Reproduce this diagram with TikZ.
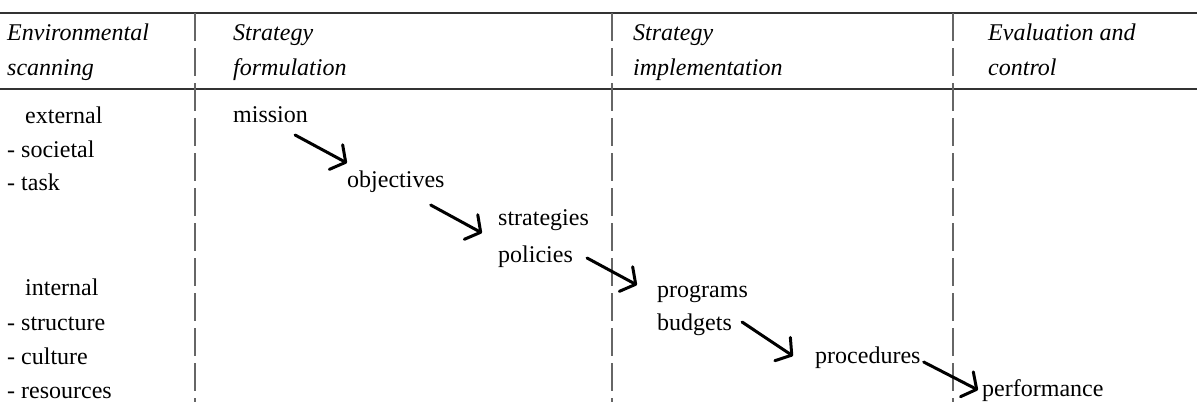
\documentclass[tikz,border=0pt]{standalone}
\usepackage{fontspec}
\setmainfont{Liberation Serif}
\usetikzlibrary{arrows.meta}
\begin{document}
\begin{tikzpicture}[x=1pt,y=-1pt,
  lbl/.style={anchor=base west, inner sep=0pt, align=left,
              font=\fontsize{24}{35}\selectfont},
  head/.style={lbl, font=\fontsize{24}{35}\selectfont\itshape},
  rule/.style={line width=2pt, draw=black!80},
  divider/.style={line width=1.4pt, draw=black!60, dash pattern=on 28pt off 7pt},
  flow/.style={line width=3pt, line cap=round,
               -{Straight Barb[length=11pt,width=28pt,line cap=round,line join=round]}}
]
\useasboundingbox (0,0) rectangle (1197,402);

% horizontal rules of the table head
\draw[rule] (0,13) -- (1197,13);
\draw[rule] (0,89) -- (1197,89);

% column separators
\draw[divider] (195,13) -- (195,402);
\draw[divider] (612,13) -- (612,402);
\draw[divider] (953,13) -- (953,402);

% column headings (anchored on the baseline of the second line)
\node[head] (hscan) at (7,75)   {Environmental\\scanning};
\node[head] (hform) at (233,75) {Strategy\\formulation};
\node[head] (himpl) at (633,75) {Strategy\\implementation};
\node[head] (heval) at (988,75) {Evaluation and\\control};

% environmental scanning items
\node[lbl] (ext)   at (25,123) {external};
\node[lbl] (soc)   at (7,157)  {- societal};
\node[lbl] (task)  at (7,190)  {- task};
\node[lbl] (int)   at (25,295) {internal};
\node[lbl] (struc) at (7,330)  {- structure};
\node[lbl] (cult)  at (7,364)  {- culture};
\node[lbl] (res)   at (7,398)  {- resources};

% process chain
\node[lbl] (mission)     at (233,122) {mission};
\node[lbl] (objectives)  at (347,187) {objectives};
\node[lbl] (strategies)  at (498,225) {strategies};
\node[lbl] (policies)    at (498,262) {policies};
\node[lbl] (programs)    at (657,297) {programs};
\node[lbl] (budgets)     at (657,330) {budgets};
\node[lbl] (procedures)  at (815,363) {procedures};
\node[lbl] (performance) at (982,396) {performance};

% arrows between the stages
\draw[flow] ([shift={(-13,13)}]mission.base east) -- ([shift={(0,-24)}]objectives.base west);
\draw[flow] ([shift={(-14,18)}]objectives.base east) -- ([shift={(-16,8)}]strategies.base west);
\draw[flow] ([shift={(14,-4)}]policies.base east) -- ([shift={(-20,-12)}]programs.base west);
\draw[flow] ([shift={(10,-8)}]budgets.base east) -- ([shift={(-22,-7)}]procedures.base west);
\draw[flow] ([shift={(3,-1)}]procedures.base east) -- ([shift={(-4,-6)}]performance.base west);
\end{tikzpicture}
\end{document}
